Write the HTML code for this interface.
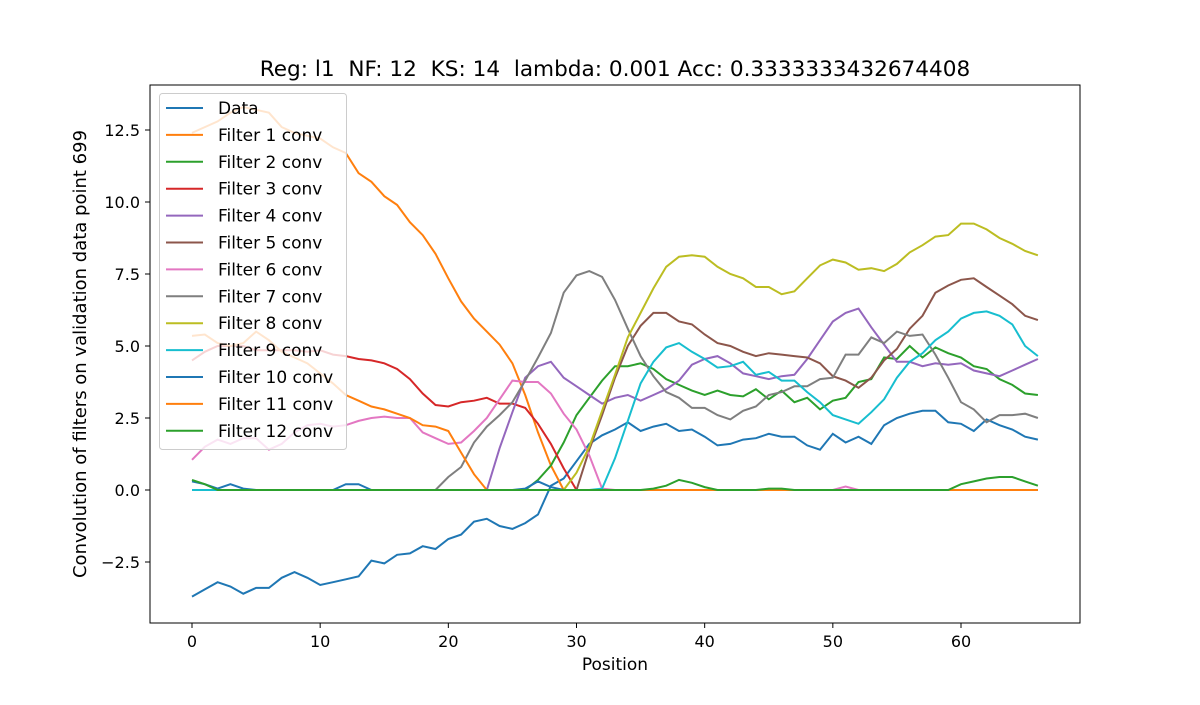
<!DOCTYPE html>
<html><head><meta charset="utf-8"><style>
body{margin:0;background:#fff;font-family:"Liberation Sans","DejaVu Sans",sans-serif}
svg text{font-family:"DejaVu Sans","Liberation Sans",sans-serif}
</style></head><body>
<svg id="chart" width="1200" height="700" xmlns="http://www.w3.org/2000/svg">
<rect width="1200" height="700" fill="#fff"/>
<text x="615" y="76" font-size="21.6" text-anchor="middle" style="white-space:pre" xml:space="preserve">Reg: l1  NF: 12  KS: 14  lambda: 0.001 Acc: 0.3333333432674408</text>
<g id="plot"></g>
<rect x="150" y="85" width="930" height="538" fill="none" stroke="#000" stroke-width="1"/>
<g id="axes"></g>
<text x="615" y="670" font-size="17" text-anchor="middle">Position</text>
<text transform="translate(86,354) rotate(-90)" font-size="18" text-anchor="middle">Convolution of filters on validation data point 699</text>
<g id="legend"></g>
</svg>
<script>
const seriesNames=["Data","Filter 1 conv","Filter 2 conv","Filter 3 conv","Filter 4 conv","Filter 5 conv","Filter 6 conv","Filter 7 conv","Filter 8 conv","Filter 9 conv","Filter 10 conv","Filter 11 conv","Filter 12 conv"];
const colors=["#1f77b4","#ff7f0e","#2ca02c","#d62728","#9467bd","#8c564b","#e377c2","#7f7f7f","#bcbd22","#17becf","#1f77b4","#ff7f0e","#2ca02c"];
const xTicks=[0,10,20,30,40,50,60];
const yTicks=[-2.5,0,2.5,5,7.5,10,12.5];
const yTickLabels=["−2.5","0.0","2.5","5.0","7.5","10.0","12.5"];
function z(n){return new Array(n).fill(0);}
const data=[-3.7,-3.45,-3.2,-3.35,-3.6,-3.4,-3.4,-3.05,-2.85,-3.05,-3.3,-3.2,-3.1,-3.0,-2.45,-2.55,-2.25,-2.2,-1.95,-2.05,-1.7,-1.55,-1.1,-1.0,-1.25,-1.35,-1.15,-0.85,0.15,0.4,1.0,1.6,1.9,2.1,2.35,2.05,2.2,2.3,2.05,2.1,1.85,1.55,1.6,1.75,1.8,1.95,1.85,1.85,1.55,1.4,1.95,1.65,1.85,1.6,2.25,2.5,2.65,2.75,2.75,2.35,2.3,2.05,2.45,2.25,2.1,1.85,1.75];
const f1=[12.4,12.6,12.8,13.1,13.3,13.2,13.1,12.6,12.4,12.3,12.2,11.9,11.7,11.0,10.7,10.2,9.9,9.3,8.85,8.2,7.35,6.55,5.95,5.5,5.05,4.4,3.3,2.0,0.85,0].concat(z(37));
const f2=z(27).concat([0.35,0.85,1.65,2.6,3.2,3.8,4.3,4.3,4.4,4.2,3.85,3.65,3.45,3.3,3.45,3.3,3.25,3.5,3.15,3.45,3.05,3.2,2.8,3.1,3.2,3.75,3.85,4.6,4.55,5.0,4.6,4.95,4.75,4.6,4.3,4.2,3.85,3.65,3.35,3.3]);
const f3=[4.5,4.8,5.0,5.0,5.0,4.85,4.85,4.85,4.85,4.8,4.85,4.7,4.65,4.55,4.5,4.4,4.2,3.85,3.35,2.95,2.9,3.05,3.1,3.2,3.0,3.0,2.85,2.3,1.6,0.75,0].concat(z(36));
const f4=z(24).concat([1.45,2.7,3.9,4.3,4.45,3.9,3.6,3.3,3.0,3.2,3.3,3.1,3.3,3.5,3.8,4.35,4.55,4.65,4.4,4.05,3.95,3.85,3.95,4.0,4.55,5.2,5.85,6.15,6.3,5.65,5.05,4.45,4.45,4.3,4.4,4.35,4.4,4.15,4.05,3.95,4.15,4.35,4.55]);
const f5=z(31).concat([1.4,2.6,3.9,5.0,5.7,6.15,6.15,5.85,5.75,5.4,5.1,5.0,4.8,4.65,4.75,4.7,4.65,4.6,4.4,3.95,3.8,3.55,3.9,4.5,4.9,5.6,6.05,6.85,7.1,7.3,7.35,7.05,6.75,6.45,6.05,5.9]);
const f6=[1.05,1.5,1.75,1.6,1.8,1.8,1.4,1.6,2.0,2.25,2.3,2.2,2.25,2.4,2.5,2.55,2.5,2.5,2.0,1.8,1.6,1.65,2.05,2.5,3.15,3.8,3.75,3.75,3.35,2.65,2.1,1.2,0.05,0,0,0,0,0,0,0,0,0,0,0,0,0,0,0,0,0,0,0.12,0,0,0,0,0,0,0,0,0,0,0,0,0,0,0];
const f7=z(20).concat([0.45,0.8,1.65,2.2,2.6,3.05,3.8,4.6,5.45,6.85,7.45,7.6,7.4,6.6,5.6,4.65,3.95,3.4,3.2,2.85,2.85,2.6,2.45,2.75,2.9,3.3,3.4,3.6,3.6,3.85,3.9,4.7,4.7,5.3,5.1,5.5,5.35,5.4,4.7,3.9,3.05,2.8,2.35,2.6,2.6,2.65,2.5]);
const f8=z(30).concat([0.6,1.5,2.75,4.0,5.3,6.15,7.0,7.75,8.1,8.15,8.1,7.75,7.5,7.35,7.05,7.05,6.8,6.9,7.35,7.8,8.0,7.9,7.65,7.7,7.6,7.85,8.25,8.5,8.8,8.85,9.25,9.25,9.05,8.75,8.55,8.3,8.15]).slice(0,67);
const f9=z(32).concat([0.05,1.1,2.4,3.7,4.45,4.95,5.1,4.8,4.55,4.25,4.3,4.45,4.0,4.1,3.8,3.8,3.4,3.05,2.6,2.45,2.3,2.7,3.15,3.9,4.45,4.75,5.2,5.5,5.95,6.15,6.2,6.05,5.75,5.0,4.65]);
const f10=[0.3,0.2,0.05,0.2,0.05,0,0,0,0,0,0,0,0.2,0.2,0,0,0,0,0,0,0,0,0,0,0,0,0.05,0.3,0.1,0].concat(z(37));
const f11=[5.35,5.4,5.1,5.0,5.1,5.5,5.2,4.8,4.6,4.4,4.05,3.7,3.3,3.1,2.9,2.8,2.65,2.5,2.25,2.2,2.05,1.3,0.55,0].concat(z(43));
const f12=[0.35,0.2,0,0,0,0,0,0,0,0,0,0,0,0,0,0,0,0,0,0,0,0,0,0,0,0,0,0,0,0,0,0,0,0,0,0,0.05,0.15,0.35,0.25,0.1,0,0,0,0,0.05,0.05,0,0,0,0,0,0,0,0,0,0,0,0,0,0.2,0.3,0.4,0.45,0.45,0.3,0.15];
const series=[data,f1,f2,f3,f4,f5,f6,f7,f8,f9,f10,f11,f12];
const NS="http://www.w3.org/2000/svg";
function X(v){return 192+v*(961-192)/60;}
function Y(v){return 490-v*(490-130)/12.5;}
const plot=document.getElementById('plot');
series.forEach((s,k)=>{
  const p=document.createElementNS(NS,'polyline');
  p.setAttribute('points',s.map((v,i)=>X(i).toFixed(1)+','+Y(v).toFixed(1)).join(' '));
  p.setAttribute('fill','none');p.setAttribute('stroke',colors[k]);p.setAttribute('stroke-width','2');
  
  
  plot.appendChild(p);
});
const axes=document.getElementById('axes');
xTicks.forEach(t=>{
  const l=document.createElementNS(NS,'line');
  l.setAttribute('x1',X(t));l.setAttribute('x2',X(t));l.setAttribute('y1',623);l.setAttribute('y2',628);l.setAttribute('stroke','#000');
  
  
  axes.appendChild(l);
  const tx=document.createElementNS(NS,'text');
  tx.setAttribute('x',X(t));tx.setAttribute('y',647);tx.setAttribute('font-size','16');tx.setAttribute('text-anchor','middle');
  tx.textContent=t;
  
  
  axes.appendChild(tx);
});
yTicks.forEach((t,i)=>{
  const l=document.createElementNS(NS,'line');
  l.setAttribute('x1',145);l.setAttribute('x2',150);l.setAttribute('y1',Y(t));l.setAttribute('y2',Y(t));l.setAttribute('stroke','#000');
  
  
  axes.appendChild(l);
  const tx=document.createElementNS(NS,'text');
  tx.setAttribute('x',140);tx.setAttribute('y',Y(t)+6);tx.setAttribute('font-size','16');tx.setAttribute('text-anchor','end');
  tx.textContent=yTickLabels[i];
  
  
  axes.appendChild(tx);
});
const lg=document.getElementById('legend');
const box=document.createElementNS(NS,'rect');
box.setAttribute('x',159.5);box.setAttribute('y',93.5);box.setAttribute('width',187);box.setAttribute('height',356);box.setAttribute('rx',3);
box.setAttribute('fill','rgba(255,255,255,0.8)');box.setAttribute('stroke','#ccc');


lg.appendChild(box);
seriesNames.forEach((n,i)=>{
  const y=108+i*26.9;
  const l=document.createElementNS(NS,'line');
  l.setAttribute('x1',166);l.setAttribute('x2',203);l.setAttribute('y1',y);l.setAttribute('y2',y);l.setAttribute('stroke',colors[i]);l.setAttribute('stroke-width','2');
  
  
  lg.appendChild(l);
  const tx=document.createElementNS(NS,'text');
  tx.setAttribute('x',218);tx.setAttribute('y',y+6);tx.setAttribute('font-size','17');
  tx.textContent=n;
  
  
  lg.appendChild(tx);
});
</script>
</body></html>
